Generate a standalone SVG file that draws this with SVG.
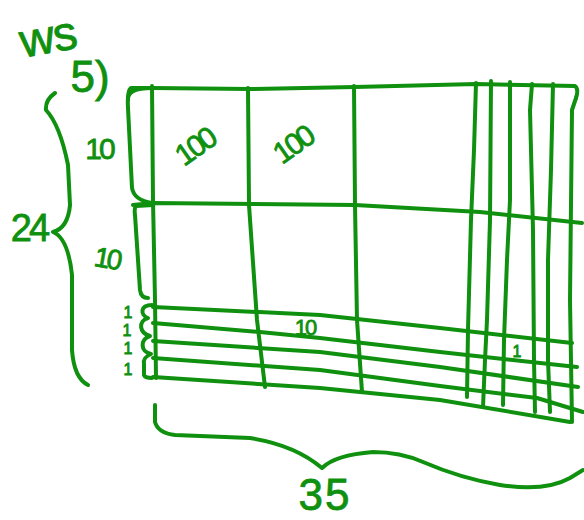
<svg xmlns="http://www.w3.org/2000/svg" width="584" height="520" viewBox="0 0 584 520">
<style>
.s{fill:none;stroke:#0f900f;stroke-width:4;stroke-linecap:round;stroke-linejoin:round}
.t{fill:#0f900f;stroke:#0f900f;stroke-width:0.8;font-family:"Liberation Sans","DejaVu Sans",sans-serif;text-anchor:middle}
</style>
<rect width="584" height="520" fill="#ffffff"/>
<g id="grid">
<!-- top edge -->
<path class="s" d="M128,100 Q127,88 152,88 L250,89 L355,87 L476,84 L575,86 Q579,89 576,98"/>
<!-- left brackets -->
<path class="s" d="M152,88 L131,88 Q127,90 128,108 L132,188 Q134,200 152,203"/>
<path class="s" d="M153,205 L136,206 Q134,208 135,215 L140,290 Q141,298 148,298"/>
<path class="s" d="M152,305 C140,305 140,315 148,318 C138,321 139,333 150,336 C140,339 140,352 151,354 C146,356 143,360 144,364 L144,375 Q145,378 152,378"/>
<!-- verticals -->
<path class="s" d="M152,86 L153,200 L155,300 L156,378"/>
<path class="s" d="M248,88 L249,205 L257,320 L265,387"/>
<path class="s" d="M354,86 L355,205 L357,320 L362,392"/>
<path class="s" d="M476,83 L474,150 L471,220 L468,330 L467,397"/>
<path class="s" d="M491,81 L490,220 L487,320 L485,360 L483,407"/>
<path class="s" d="M510,82 L510,200 L507,260 L504,340 L503,405"/>
<path class="s" d="M532,84 L530,110 L533,230 L534,360 L535,412"/>
<path class="s" d="M553,84 L551,170 L548,260 L548,360 L550,412"/>
<path class="s" d="M576,98 L572,110 L570,300 L572,422"/>
<!-- horizontals -->
<path class="s" d="M133,205 L153,203 L355,205 L480,212 L582,223"/>
<path class="s" d="M153,307 L320,315 L440,328 L572,343"/>
<path class="s" d="M153,323 L260,332 L320,338 L440,352 L577,367"/>
<path class="s" d="M153,341 L320,352 L440,367 L578,387"/>
<path class="s" d="M153,358 L320,370 L440,386 L537,398 L583,412"/>
<path class="s" d="M153,377 L320,388 L440,400 L570,422"/>
</g>
<g id="braces">
<path class="s" d="M55,93 Q45,100 46,110 Q60,125 68,165 L70,205 Q68,228 53,232 Q68,238 72,275 L72,350 Q74,378 88,385"/>
<path class="s" d="M155,405 L155,422 Q158,433 175,435 L250,438 Q295,445 322,468 Q335,455 373,452 Q400,452 423,462 Q460,478 500,485 Q545,492 570,478 L583,470"/>
</g>
<g id="labels">
<text class="t" x="48" y="53" font-size="48" letter-spacing="-1" transform="rotate(-10 48 38)">ws</text>
<text class="t" x="90" y="92" font-size="44">5)</text>
<text class="t" x="99" y="159" font-size="30" letter-spacing="-3">10</text>
<text class="t" x="107" y="268" font-size="28" letter-spacing="-3" transform="rotate(10 107 258)">10</text>
<text class="t" x="29" y="241" font-size="38" letter-spacing="-3">24</text>
<text class="t" x="195" y="157" font-size="30" letter-spacing="-3" transform="rotate(-35 195 147)">100</text>
<text class="t" x="293" y="155" font-size="30" letter-spacing="-3" transform="rotate(-35 293 145)">100</text>
<text class="t" x="305" y="335" font-size="22" letter-spacing="-2">10</text>
<text class="t" x="517" y="357" font-size="16">1</text>
<text class="t" x="128" y="318" font-size="16">1</text>
<text class="t" x="127" y="336" font-size="16">1</text>
<text class="t" x="128" y="354" font-size="16">1</text>
<text class="t" x="128" y="375" font-size="16">1</text>
<text class="t" x="325" y="510" font-size="44" letter-spacing="2">35</text>
</g>
</svg>
